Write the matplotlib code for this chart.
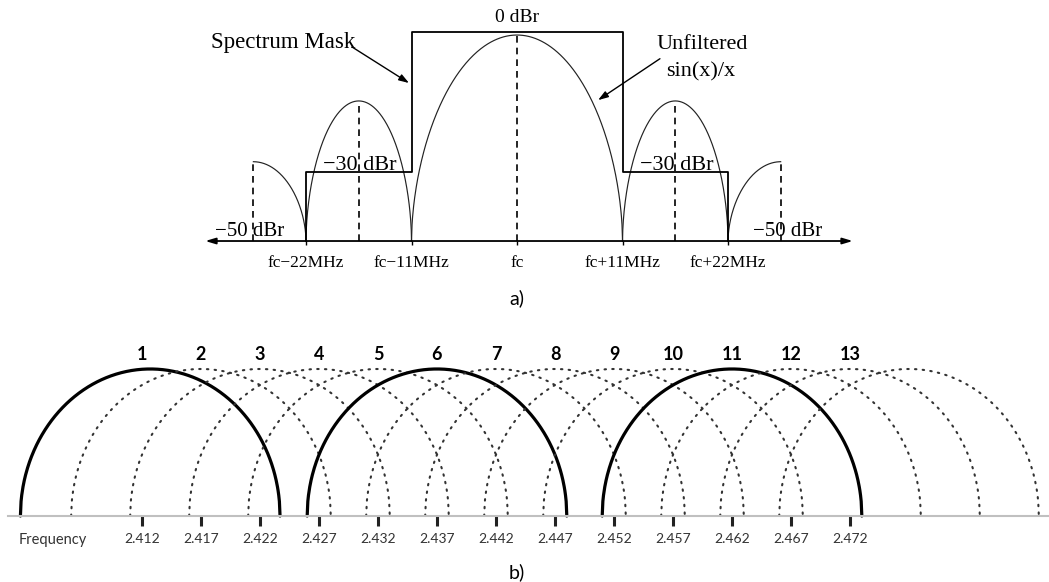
import numpy as np
import matplotlib.pyplot as plt

# ---------------- a) spectrum mask (schematic, MHz offset from fc) ----------------
lobe_centers = [-27.5, -16.5, 0.0, 16.5, 27.5]   # MHz
lobe_halfw = [5.5, 5.5, 11.0, 5.5, 5.5]         # MHz
lobe_peaks = [0.385, 0.68, 1.0, 0.68, 0.385]    # relative height on the sketch
mask_x = [-22, -22, -11, -11, 11, 11, 22, 22]
mask_y = [0, 0.335, 0.335, 1.015, 1.015, 0.335, 0.335, 0]
a_ticks = [-22, -11, 0, 11, 22]
a_ticklabels = ['fc\u221222MHz', 'fc\u221211MHz', 'fc', 'fc+11MHz', 'fc+22MHz']

# ---------------- b) 2.4 GHz channels ----------------
ch_names = ['1', '2', '3', '4', '5', '6', '7', '8', '9', '10', '11', '12', '13', '']
ch_centers = [2.4127, 2.417, 2.422, 2.427, 2.432, 2.437, 2.442, 2.447,
              2.452, 2.457, 2.462, 2.467, 2.472, 2.477]   # GHz
ch_solid = ['1', '6', '11']
ch_halfw = 0.011
b_ticks = [2.412, 2.417, 2.422, 2.427, 2.432, 2.437, 2.442, 2.447,
           2.452, 2.457, 2.462, 2.467, 2.472]

W, H = 1049, 582
fig = plt.figure(figsize=(W / 100, H / 100), dpi=100)

serif = ['Liberation Serif', 'DejaVu Serif']
sans = ['Lato', 'DejaVu Sans']

# ===== top axes =====
ax = fig.add_axes([0.1957, 0.5328, 0.6172, 0.4601])
ax.set_xlim(-32.5, 35)
ax.set_ylim(-0.15, 1.15)
for s in ax.spines.values():
    s.set_visible(False)
ax.spines['bottom'].set_position(('data', 0))
ax.set_yticks([])
ax.set_xticks(a_ticks)
ax.set_xticklabels(a_ticklabels, fontfamily=serif, fontsize=12.5)
ax.tick_params(axis='x', length=3, width=1, direction='out', pad=7)
ax.patch.set_alpha(0)

def arch(c, hw, h, n=400, p=0.55):
    x = np.linspace(c - hw, c + hw, n)
    u = (x - c) / hw
    y = h * np.clip(1 - u ** 2, 0, None) ** p
    return x, y

for c, hw, h in zip(lobe_centers, lobe_halfw, lobe_peaks):
    x, y = arch(c, hw, h)
    if abs(c) > 20:
        # only the inner half of the outer lobes is drawn
        keep = (x >= c) if c < 0 else (x <= c)
        x, y = x[keep], y[keep]
    ax.plot(x, y, color='#222222', lw=0.85)
    ax.plot([c, c], [0, h], color='black', lw=1.2, ls=(0, (4, 3)))

ax.plot(mask_x, mask_y, color='black', lw=1.3)

ax.annotate('', xy=(35, 0), xytext=(-32.5, 0),
            arrowprops=dict(arrowstyle='<|-|>,head_length=0.6,head_width=0.18',
                            color='black', lw=1.3, shrinkA=0, shrinkB=0))

tkw = dict(fontfamily=serif, ha='center', va='center')
ax.text(0, 1.083, '0 dBr', fontsize=14, **tkw)
ax.text(-24.4, 0.966, 'Spectrum Mask', fontsize=16.5, **tkw)
ax.text(19.3, 0.956, 'Unfiltered', fontsize=16, **tkw)
ax.text(19.2, 0.820, 'sin(x)/x', fontsize=16, **tkw)
ax.text(-16.4, 0.369, '\u221230 dBr', fontsize=16, **tkw)
ax.text(16.7, 0.369, '\u221230 dBr', fontsize=16, **tkw)
ax.text(-27.9, 0.044, '\u221250 dBr', fontsize=15, **tkw)
ax.text(28.2, 0.044, '\u221250 dBr', fontsize=15, **tkw)

ax.annotate('', xy=(-11.26, 0.767), xytext=(-17.2, 0.942),
            arrowprops=dict(arrowstyle='-|>,head_length=0.6,head_width=0.2',
                            color='black', lw=1.0, shrinkA=0, shrinkB=0))
ax.annotate('', xy=(8.45, 0.684), xytext=(14.9, 0.885),
            arrowprops=dict(arrowstyle='-|>,head_length=0.6,head_width=0.2',
                            color='black', lw=1.0, shrinkA=0, shrinkB=0))

ax.text(0, -0.277, 'a)', fontfamily=sans, fontsize=14, ha='center', va='center')

# ===== bottom axes =====
bx = fig.add_axes([0.0, 0.01237, 1.0, 0.4168])
bx.set_xlim(2.39997, 2.48886)
bx.set_ylim(-0.4, 1.25)
for k in ['top', 'left', 'right']:
    bx.spines[k].set_visible(False)
bx.spines['bottom'].set_position(('data', 0))
bx.spines['bottom'].set_color('#c0c0c0')
bx.spines['bottom'].set_linewidth(1.5)
bx.spines['bottom'].set_bounds(2.40064, 2.48886)
bx.patch.set_alpha(0)
bx.set_yticks([])
bx.set_xticks(b_ticks)
bx.set_xticklabels([f'{t:.3f}' for t in b_ticks], fontfamily=sans,
                   fontsize=10, color='#333333')
bx.tick_params(axis='x', length=7, width=2.2, color='#222222', pad=5)

for name, c in zip(ch_names, ch_centers):
    x, y = arch(c, ch_halfw, 1.0, p=0.5)
    if name in ch_solid:
        bx.plot(x, y, color='black', lw=2.3, solid_capstyle='round')
    else:
        bx.plot(x, y, color='#333333', lw=1.5, ls=(0, (0.7, 3.0)),
                dash_capstyle='round')
    if name:
        bx.text(float(b_ticks[int(name) - 1]), 1.10, name, fontfamily=sans,
                fontsize=13, fontweight='bold', ha='center', va='center')

bx.text(2.40446, -0.163, 'Frequency', fontfamily=sans, fontsize=10.5,
        color='#333333', ha='center', va='center')
bx.text(2.44378, -0.381, 'b)', fontfamily=sans, fontsize=14,
        ha='center', va='center')

fig.savefig('out.png', dpi=100)
